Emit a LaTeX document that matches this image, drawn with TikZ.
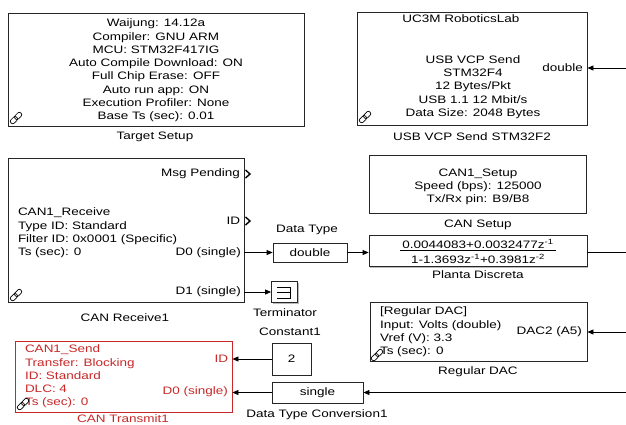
\documentclass[tikz,border=0pt]{standalone}
\usepackage{fontspec}
\setmainfont{Liberation Sans}[FakeStretch=1.25]
\usetikzlibrary{arrows.meta,shadows}
\definecolor{canred}{RGB}{200,40,40}
\tikzset{
  blk/.style={draw=black!85, line width=0.8pt, fill=white, inner sep=0pt,
    drop shadow={shadow xshift=1.3pt, shadow yshift=-1.3pt, fill=black!45, opacity=0.6}},
  txt/.style={inner sep=0pt, outer sep=0pt},
  arr/.style={line width=0.8pt, -{Triangle[length=6pt,width=5pt]}},
  wire/.style={line width=0.8pt},
  chev/.style={line width=1.4pt, miter limit=10},
  linkicon/.pic={
    \draw[line width=0.7pt, rounded corners=2pt, rotate=45] (-7,-2.3) rectangle (1,2.3);
    \draw[line width=0.7pt, rounded corners=2pt, rotate=45] (-1,-2.3) rectangle (7,2.3);
  }
}
\begin{document}
\begin{tikzpicture}[x=1pt,y=-1pt,font=\fontsize{10.8}{13.3}\selectfont]
\useasboundingbox (0,0) rectangle (626,424);

% ---------- Target Setup
\node[blk, minimum width=296pt, minimum height=113pt] (ts) at (156,69.5) {};
\node[txt, align=center] (tsT) at (156,70.5) {Waijung: 14.12a\\Compiler: GNU ARM\\MCU: STM32F417IG\\Auto Compile Download: ON\\Full Chip Erase: OFF\\Auto run app: ON\\Execution Profiler: None\\Base Ts (sec): 0.01};
\pic at (16,118) {linkicon};
\node[txt] (tsL) at (155,137) {Target Setup};

% ---------- USB VCP Send
\node[blk, minimum width=230pt, minimum height=113pt] (usb) at (472,68.5) {};
\node[txt] (usbH) at (461,19) {UC3M RoboticsLab};
\node[txt, align=center] (usbT) at (473,87) {USB VCP Send\\STM32F4\\12 Bytes/Pkt\\USB 1.1 12 Mbit/s\\Data Size: 2048 Bytes};
\node[txt, anchor=east] (usbP) at (583,68) {double};
\pic at (365,117) {linkicon};
\node[txt] (usbL) at (472,137) {USB VCP Send STM32F2};

% ---------- CAN Receive
\node[blk, minimum width=236pt, minimum height=144pt] (crx) at (126,230) {};
\node[txt, anchor=west, align=left] (crxT) at (18,233) {CAN1\_Receive\\Type ID: Standard\\Filter ID: 0x0001 (Specific)\\Ts (sec): 0};
\node[txt, anchor=east] (crxP1) at (240,174) {Msg Pending};
\node[txt, anchor=east] (crxP2) at (240,221) {ID};
\node[txt, anchor=east] (crxP3) at (241,253) {D0 (single)};
\node[txt, anchor=east] (crxP4) at (241,292) {D1 (single)};
\draw[chev] (245.5,170) -- (250,174) -- (245.5,178);
\draw[chev] (245.5,217) -- (250,221) -- (245.5,225);
\pic at (16,295) {linkicon};
\node[txt] (crxL) at (125,318) {CAN Receive1};

% ---------- Data Type
\node[blk, minimum width=74pt, minimum height=19pt] (dt) at (310,252.5) {double};
\node[txt] (dtL) at (307,230) {Data Type};

% ---------- Terminator
\node[blk, minimum width=26pt, minimum height=21pt] (term) at (284.5,292) {};
\draw[line width=0.8pt] (277,287) -- (290,287) -- (290,298) -- (277,298) (277,292.5) -- (290,292.5);
\node[txt] (termL) at (285,313) {Terminator};

% ---------- CAN Setup
\node[blk, minimum width=217pt, minimum height=58pt] (cs) at (477.5,184) {};
\node[txt, align=center] (csT) at (478,187) {CAN1\_Setup\\Speed (bps): 125000\\Tx/Rx pin: B9/B8};
\node[txt] (csL) at (478,225) {CAN Setup};

% ---------- Planta Discreta
\node[blk, minimum width=218pt, minimum height=31pt] (pl) at (478,251) {};
\node[txt] (plN) at (478,244) {0.0044083+0.0032477z\textsuperscript{-1}};
\node[txt] (plD) at (478,259) {1-1.3693z\textsuperscript{-1}+0.3981z\textsuperscript{-2}};
\draw[line width=0.7pt] (400,250.5) -- (556,250.5);
\node[txt] (plL) at (478,275) {Planta Discreta};

% ---------- Regular DAC
\node[blk, minimum width=217pt, minimum height=59pt] (dac) at (478.5,331.5) {};
\node[txt, anchor=west, align=left] (dacT) at (380,332) {[Regular DAC]\\Input: Volts (double)\\Vref (V): 3.3\\Ts (sec): 0};
\node[txt, anchor=east] (dacP) at (582,332) {DAC2 (A5)};
\pic at (377,355) {linkicon};
\node[txt] (dacL) at (478,372) {Regular DAC};

% ---------- Constant1
\node[blk, minimum width=39pt, minimum height=32pt] (cst) at (291.5,359) {2};
\node[txt] (cstL) at (290,332) {Constant1};

% ---------- Data Type Conversion1
\node[blk, minimum width=91pt, minimum height=21pt] (sgl) at (317.5,392.5) {single};
\node[txt] (sglL) at (317,415) {Data Type Conversion1};

% ---------- CAN Transmit1
\node[blk, draw=canred, minimum width=217pt, minimum height=71pt] (ctx) at (123.5,376.5) {};
\node[txt, anchor=west, align=left, text=canred] (ctxT) at (25,376.5) {CAN1\_Send\\Transfer: Blocking\\ID: Standard\\DLC: 4\\Ts (sec): 0};
\node[txt, anchor=east, text=canred] (ctxP1) at (228,359) {ID};
\node[txt, anchor=east, text=canred] (ctxP2) at (228,392) {D0 (single)};
\pic at (23,404) {linkicon};
\node[txt, text=canred] (ctxL) at (123,419) {CAN Transmit1};

% ---------- connectors
\coordinate (inU) at (626,68);
\coordinate (inD) at (626,332);
\coordinate (inS) at (626,392.5);
\coordinate (outP) at (626,252);
\draw[arr] (inU) -- (inU -| usb.east);
\draw[arr] (crx.east |- dt.west) -- (dt.west);
\draw[arr] (crx.east |- term.west) -- (term.west);
\draw[arr] (dt.east) -- (dt.east -| pl.west);
\draw[wire] (pl.east |- outP) -- (outP);
\draw[arr] (inD) -- (inD -| dac.east);
\draw[arr] (cst.west) -- (cst.west -| ctx.east);
\draw[arr] (sgl.west) -- (sgl.west -| ctx.east);
\draw[arr] (inS) -- (sgl.east);
\end{tikzpicture}
\end{document}
